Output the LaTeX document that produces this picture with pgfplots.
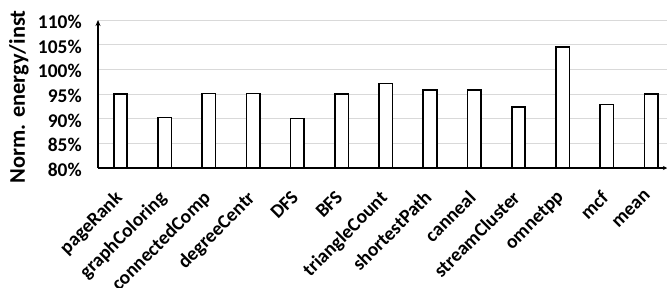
\documentclass[border=0pt]{standalone}
\usepackage{pgfplots}
\pgfplotsset{compat=1.18}
\usetikzlibrary{arrows.meta}
\usepackage{fontspec}
\setmainfont{Carlito}
\begin{document}
\begin{tikzpicture}[x=1bp,y=1bp]
\path[use as bounding box] (0,0) rectangle (668,-287);
\begin{axis}[
  at={(98bp,-168bp)}, anchor=south west,
  scale only axis, width=569bp, height=148bp,
  ymin=80, ymax=110, ytick={80,85,...,110},
  yticklabel={\pgfmathprintnumber{\tick}\%},
  /pgf/number format/assume math mode=true,
  xmin=-0.509, xmax=12.36,
  xtick={0,...,12},
  xticklabels={pageRank,graphColoring,connectedComp,degreeCentr,DFS,BFS,triangleCount,shortestPath,canneal,streamCluster,omnetpp,mcf,mean},
  xticklabel style={xshift=-7bp, yshift=-17bp, rotate=45, anchor=north east, font=\bfseries\fontsize{19.5}{20}\selectfont, inner sep=0pt},
  yticklabel style={font=\bfseries\fontsize{19.5}{20}\selectfont, anchor=east, inner sep=0pt, xshift=-14bp, yshift=-2bp},
  ylabel={Norm. energy/inst},
  ylabel style={font=\bfseries\fontsize{22.5}{23}\selectfont, at={(axis description cs:-0.1217,0.48)}, anchor=south, inner sep=0pt},
  axis x line=bottom, axis y line=left,
  axis line style={line width=2bp, black},
  x axis line style={-{Stealth[length=4bp,width=4bp]}},
  y axis line style={-{Stealth[length=6bp,width=5bp]}},
  tick style={draw=none},
  ymajorgrids, grid style={line width=1bp, black!15},
  ybar, bar width=13.5bp,
  enlarge x limits=false,
  clip=false,
]
\addplot[fill=white, draw=black, line width=1.6bp] coordinates {
(0,95.0) (1,90.2) (2,95.1) (3,95.1) (4,90.0) (5,95.0) (6,97.1) (7,95.8) (8,95.8) (9,92.4) (10,104.5) (11,92.9) (12,95.0)};
\end{axis}
\end{tikzpicture}
\end{document}
